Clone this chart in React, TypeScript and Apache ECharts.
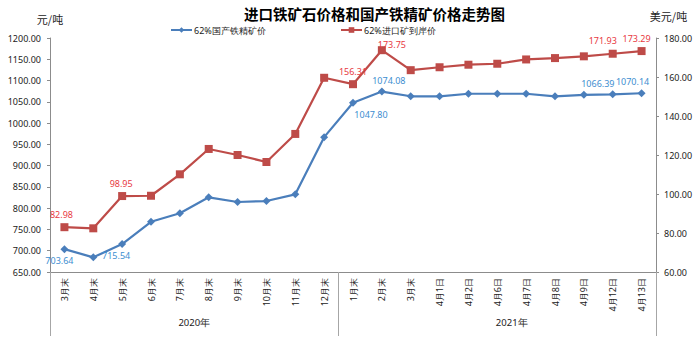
import React, { useEffect, useRef } from "react";
import * as echarts from "echarts";

const categories = [
  "3月末", "4月末", "5月末", "6月末", "7月末", "8月末", "9月末", "10月末", "11月末", "12月末",
  "1月末", "2月末", "3月末", "4月1日", "4月2日", "4月6日", "4月7日", "4月8日", "4月9日", "4月12日", "4月13日",
];
const yearGroups = [
  { name: "2020年", count: 10 },
  { name: "2021年", count: 11 },
];
const domesticPrice = [
  703.64, 684.5, 715.54, 768.0, 788.0, 825.5, 814.5, 816.8, 832.5, 967.0,
  1047.8, 1074.08, 1063.0, 1063.0, 1069.0, 1069.0, 1069.0, 1063.0, 1066.39, 1067.5, 1070.14,
];
const importPrice = [
  82.98, 82.4, 98.95, 99.1, 110.1, 123.1, 120.0, 116.4, 130.8, 159.6,
  156.31, 173.75, 163.5, 165.0, 166.3, 166.8, 169.0, 169.7, 170.6, 171.93, 173.29,
];
// label offsets per labelled point (index -> [dx, dy])
const domesticLabels: Record<number, number[]> = {
  0: [-5, 0], 2: [-6, 0], 10: [18, 0], 11: [7, 0], 18: [14, 0], 20: [-9, 0],
};
const importLabels: Record<number, number[]> = {
  0: [-3, 0], 2: [-1, 0], 10: [0, 0], 11: [10, 7], 19: [-10, 0], 20: [-5, 0],
};

const leftTicks = { min: 650, max: 1200, interval: 50 };
const rightTicks = { min: 60, max: 180, interval: 20 };

const BLUE = "#4a7ebb";
const RED = "#be4b48";
const BLUE_LABEL = "#3d8ed0";
const RED_LABEL = "#e8393f";
const AXIS_GREY = "#8c8c8c";
const FONT = "Noto Sans, Liberation Sans, sans-serif";

export default function App() {
  const ref = useRef<HTMLDivElement>(null);
  useEffect(() => {
    if (!ref.current) return;
    const chart = echarts.init(ref.current, null, { renderer: "svg" });

    // half-slot group axis
    const total = categories.length;
    const halfSlots: string[] = new Array(total * 2 + 1).fill("");
    const boundaries: number[] = [0];
    let start = 0;
    yearGroups.forEach((g, gi) => {
      const end = start + g.count;
      boundaries.push(end * 2);
      const mid = gi === 0 ? start + end : start + end + 1;
      halfSlots[mid] = g.name;
      start = end;
    });

    const dData = domesticPrice.map((v, i) => {
      const o = domesticLabels[i];
      return o
        ? { value: v, label: { show: true, position: i === 0 || i === 2 || i === 10 ? "bottom" : "top", offset: o } }
        : v;
    });
    const iData = importPrice.map((v, i) => {
      const o = importLabels[i];
      return o ? { value: v, label: { show: true, position: "top", offset: o } } : v;
    });

    chart.setOption({
      animation: false,
      textStyle: { fontFamily: FONT },
      title: {
        text: "进口铁矿石价格和国产铁精矿价格走势图",
        left: 239,
        top: 0,
        padding: [5, 5, 0, 5],
        textStyle: { fontSize: 14.5, fontWeight: "bold", color: "#000", fontFamily: "Noto Sans CJK SC", lineHeight: 16 },
      },
      legend: [
        {
          data: ["62%国产铁精矿价"],
          left: 170,
          top: 25,
          padding: 0,
          itemWidth: 21,
          itemHeight: 7,
          textStyle: { fontSize: 9, color: "#222", padding: [0, 0, 0, -3], lineHeight: 10 },
        },
        {
          data: ["62%进口矿到岸价"],
          left: 340,
          top: 25,
          padding: 0,
          itemWidth: 21,
          itemHeight: 7,
          textStyle: { fontSize: 9, color: "#222", padding: [0, 0, 0, -3], lineHeight: 10 },
        },
      ],
      grid: { left: 50, right: 41, top: 38, bottom: 67, containLabel: false },
      xAxis: [
        {
          type: "category",
          data: categories,
          boundaryGap: true,
          axisLine: { lineStyle: { color: AXIS_GREY } },
          axisTick: { length: 40, lineStyle: { color: "#a6a6a6" }, alignWithLabel: false },
          axisLabel: { rotate: 90, fontSize: 9, color: "#222", margin: 6, interval: 0 },
        },
        {
          type: "category",
          data: halfSlots,
          boundaryGap: false,
          position: "bottom",
          axisLine: { show: false },
          axisTick: {
            show: true,
            length: 64,
            interval: (idx: number) => boundaries.indexOf(idx) >= 0,
            lineStyle: { color: "#a6a6a6" },
          },
          axisLabel: { interval: 0, fontSize: 9.5, color: "#222", margin: 45 },
        },
      ],
      yAxis: [
        {
          type: "value",
          ...leftTicks,
          name: "元/吨",
          nameLocation: "end",
          nameGap: 14,
          nameTextStyle: { fontSize: 11, color: "#222", fontFamily: "Noto Sans CJK SC" },
          axisLine: { show: true, lineStyle: { color: AXIS_GREY } },
          axisTick: { show: true, length: 3, lineStyle: { color: AXIS_GREY } },
          axisLabel: { fontSize: 9, color: "#222", margin: 9, formatter: (v: number) => v.toFixed(2) },
          splitLine: { show: false },
        },
        {
          type: "value",
          ...rightTicks,
          position: "right",
          name: "美元/吨",
          nameLocation: "end",
          nameGap: 17,
          nameTextStyle: { fontSize: 11, color: "#222", padding: [0, 0, 0, 25], fontFamily: "Noto Sans CJK SC" },
          axisLine: { show: true, lineStyle: { color: AXIS_GREY } },
          axisTick: { show: true, length: 3, lineStyle: { color: AXIS_GREY } },
          axisLabel: { fontSize: 9, color: "#222", margin: 8, formatter: (v: number) => v.toFixed(2) },
          splitLine: { show: false },
        },
      ],
      series: [
        {
          name: "62%国产铁精矿价",
          type: "line",
          yAxisIndex: 0,
          data: dData,
          symbol: "diamond",
          symbolSize: 8,
          lineStyle: { color: BLUE, width: 2.2 },
          itemStyle: { color: BLUE },
          label: {
            show: false,
            color: BLUE_LABEL,
            fontSize: 9,
            distance: 3,
            formatter: (p: any) => Number(p.value).toFixed(2),
          },
          z: 3,
        },
        {
          name: "62%进口矿到岸价",
          type: "line",
          yAxisIndex: 1,
          data: iData,
          symbol: "rect",
          symbolSize: 8,
          lineStyle: { color: RED, width: 2.2 },
          itemStyle: { color: RED },
          label: {
            show: false,
            color: RED_LABEL,
            fontSize: 9,
            distance: 4,
            lineHeight: 10,
            formatter: (p: any) => Number(p.value).toFixed(2),
          },
          z: 2,
        },
      ],
    });
    return () => chart.dispose();
  }, []);
  return <div ref={ref} style={{ width: 697, height: 339, position: "absolute", left: 0, top: 0, background: "#fff" }} />;
}
